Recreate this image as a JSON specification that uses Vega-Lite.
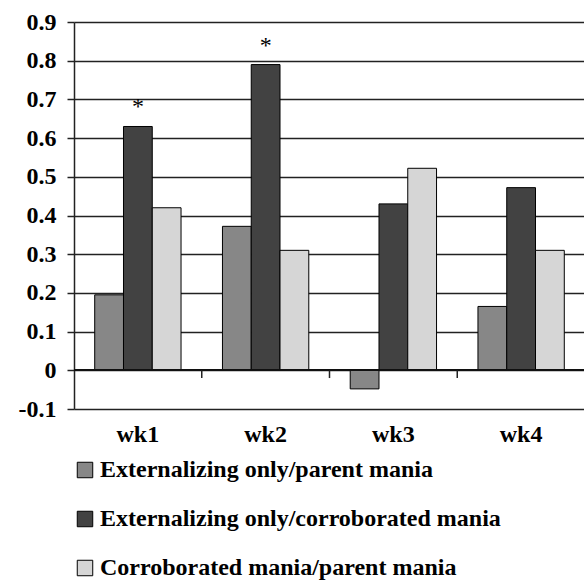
{
  "$schema": "https://vega.github.io/schema/vega-lite/v6.json",
  "autosize": {"type": "none"},
  "padding": {"left": 74, "top": 22, "right": 0, "bottom": 173},
  "width": 511,
  "height": 387,
  "background": "white",
  "config": {
    "view": {"stroke": null},
    "font": "Liberation Serif"
  },
  "data": {
    "values": [
      {"wk": "wk1", "series": "Externalizing only/parent mania", "value": 0.195, "sig": ""},
      {"wk": "wk1", "series": "Externalizing only/corroborated mania", "value": 0.63, "sig": "*"},
      {"wk": "wk1", "series": "Corroborated mania/parent mania", "value": 0.42, "sig": ""},
      {"wk": "wk2", "series": "Externalizing only/parent mania", "value": 0.372, "sig": ""},
      {"wk": "wk2", "series": "Externalizing only/corroborated mania", "value": 0.79, "sig": "*"},
      {"wk": "wk2", "series": "Corroborated mania/parent mania", "value": 0.31, "sig": ""},
      {"wk": "wk3", "series": "Externalizing only/parent mania", "value": -0.048, "sig": ""},
      {"wk": "wk3", "series": "Externalizing only/corroborated mania", "value": 0.43, "sig": ""},
      {"wk": "wk3", "series": "Corroborated mania/parent mania", "value": 0.522, "sig": ""},
      {"wk": "wk4", "series": "Externalizing only/parent mania", "value": 0.165, "sig": ""},
      {"wk": "wk4", "series": "Externalizing only/corroborated mania", "value": 0.472, "sig": ""},
      {"wk": "wk4", "series": "Corroborated mania/parent mania", "value": 0.31, "sig": ""}
    ]
  },
  "encoding": {
    "x": {
      "field": "wk", "type": "nominal",
      "scale": {"paddingInner": 0, "paddingOuter": 0},
      "axis": {
        "title": null, "orient": "bottom", "domain": false, "ticks": false,
        "labelAngle": 0, "labelFont": "Liberation Serif", "labelFontWeight": "bold",
        "labelFontSize": 24, "labelColor": "black", "labelPadding": 13
      }
    }
  },
  "layer": [
    {
      "mark": {"type": "bar", "stroke": "black", "strokeWidth": 1},
      "encoding": {
        "xOffset": {
          "field": "series", "type": "nominal",
          "sort": ["Externalizing only/parent mania", "Externalizing only/corroborated mania", "Corroborated mania/parent mania"],
          "scale": {"paddingInner": 0, "paddingOuter": 0.72}
        },
        "y": {
          "field": "value", "type": "quantitative",
          "scale": {"domain": [-0.1, 0.9], "nice": false, "zero": false},
          "axis": {
            "title": null,
            "values": [-0.1, 0, 0.1, 0.2, 0.3, 0.4, 0.5, 0.6, 0.7, 0.8, 0.9],
            "tickCount": 30,
            "labelExpr": "datum.value < -0.01 ? '-' + format(-datum.value, '.1f') : (abs(datum.value) < 0.01 ? '0' : format(datum.value, '.1f'))",
            "labelOverlap": false, "labelFlush": false,
            "grid": true, "gridColor": "#222222", "gridWidth": 1.5, "gridOpacity": 1,
            "domain": true, "domainColor": "#222222", "domainWidth": 1.5,
            "ticks": true, "tickSize": 7, "tickColor": "#222222", "tickWidth": 1.5,
            "labelFont": "Liberation Serif", "labelFontWeight": "bold",
            "labelFontSize": 24, "labelColor": "black", "labelPadding": 11
          }
        },
        "fill": {
          "field": "series", "type": "nominal",
          "sort": ["Externalizing only/parent mania", "Externalizing only/corroborated mania", "Corroborated mania/parent mania"],
          "scale": {"range": ["#878787", "#424242", "#d6d6d6"]},
          "legend": {
            "title": null, "orient": "none", "direction": "vertical",
            "legendX": -1, "legendY": 436,
            "symbolType": "square", "symbolSize": 240,
            "symbolStrokeColor": "black", "symbolStrokeWidth": 1,
            "labelFont": "Liberation Serif", "labelFontWeight": "bold",
            "labelFontSize": 24, "labelColor": "black", "labelOffset": 3,
            "rowPadding": 25, "labelLimit": 600
          }
        }
      }
    },
    {
      "mark": {"type": "rule", "color": "#111111", "strokeWidth": 1.5},
      "encoding": {"y": {"datum": 0, "type": "quantitative"}, "x": null}
    },
    {
      "transform": [
        {"filter": "datum.series == 'Externalizing only/parent mania' && datum.wk != 'wk1'"}
      ],
      "mark": {"type": "rule", "color": "#222222", "strokeWidth": 1.5},
      "encoding": {
        "x": {"field": "wk", "type": "nominal", "bandPosition": 0},
        "y": {"datum": 0, "type": "quantitative"},
        "y2": {"datum": -0.02}
      }
    },
    {
      "transform": [{"filter": "datum.sig == '*'"}],
      "mark": {"type": "text", "font": "Liberation Serif", "fontSize": 24, "baseline": "alphabetic", "dy": -12, "color": "black"},
      "encoding": {
        "xOffset": {
          "field": "series", "type": "nominal",
          "sort": ["Externalizing only/parent mania", "Externalizing only/corroborated mania", "Corroborated mania/parent mania"]
        },
        "y": {"field": "value", "type": "quantitative"},
        "text": {"field": "sig"}
      }
    }
  ]
}
